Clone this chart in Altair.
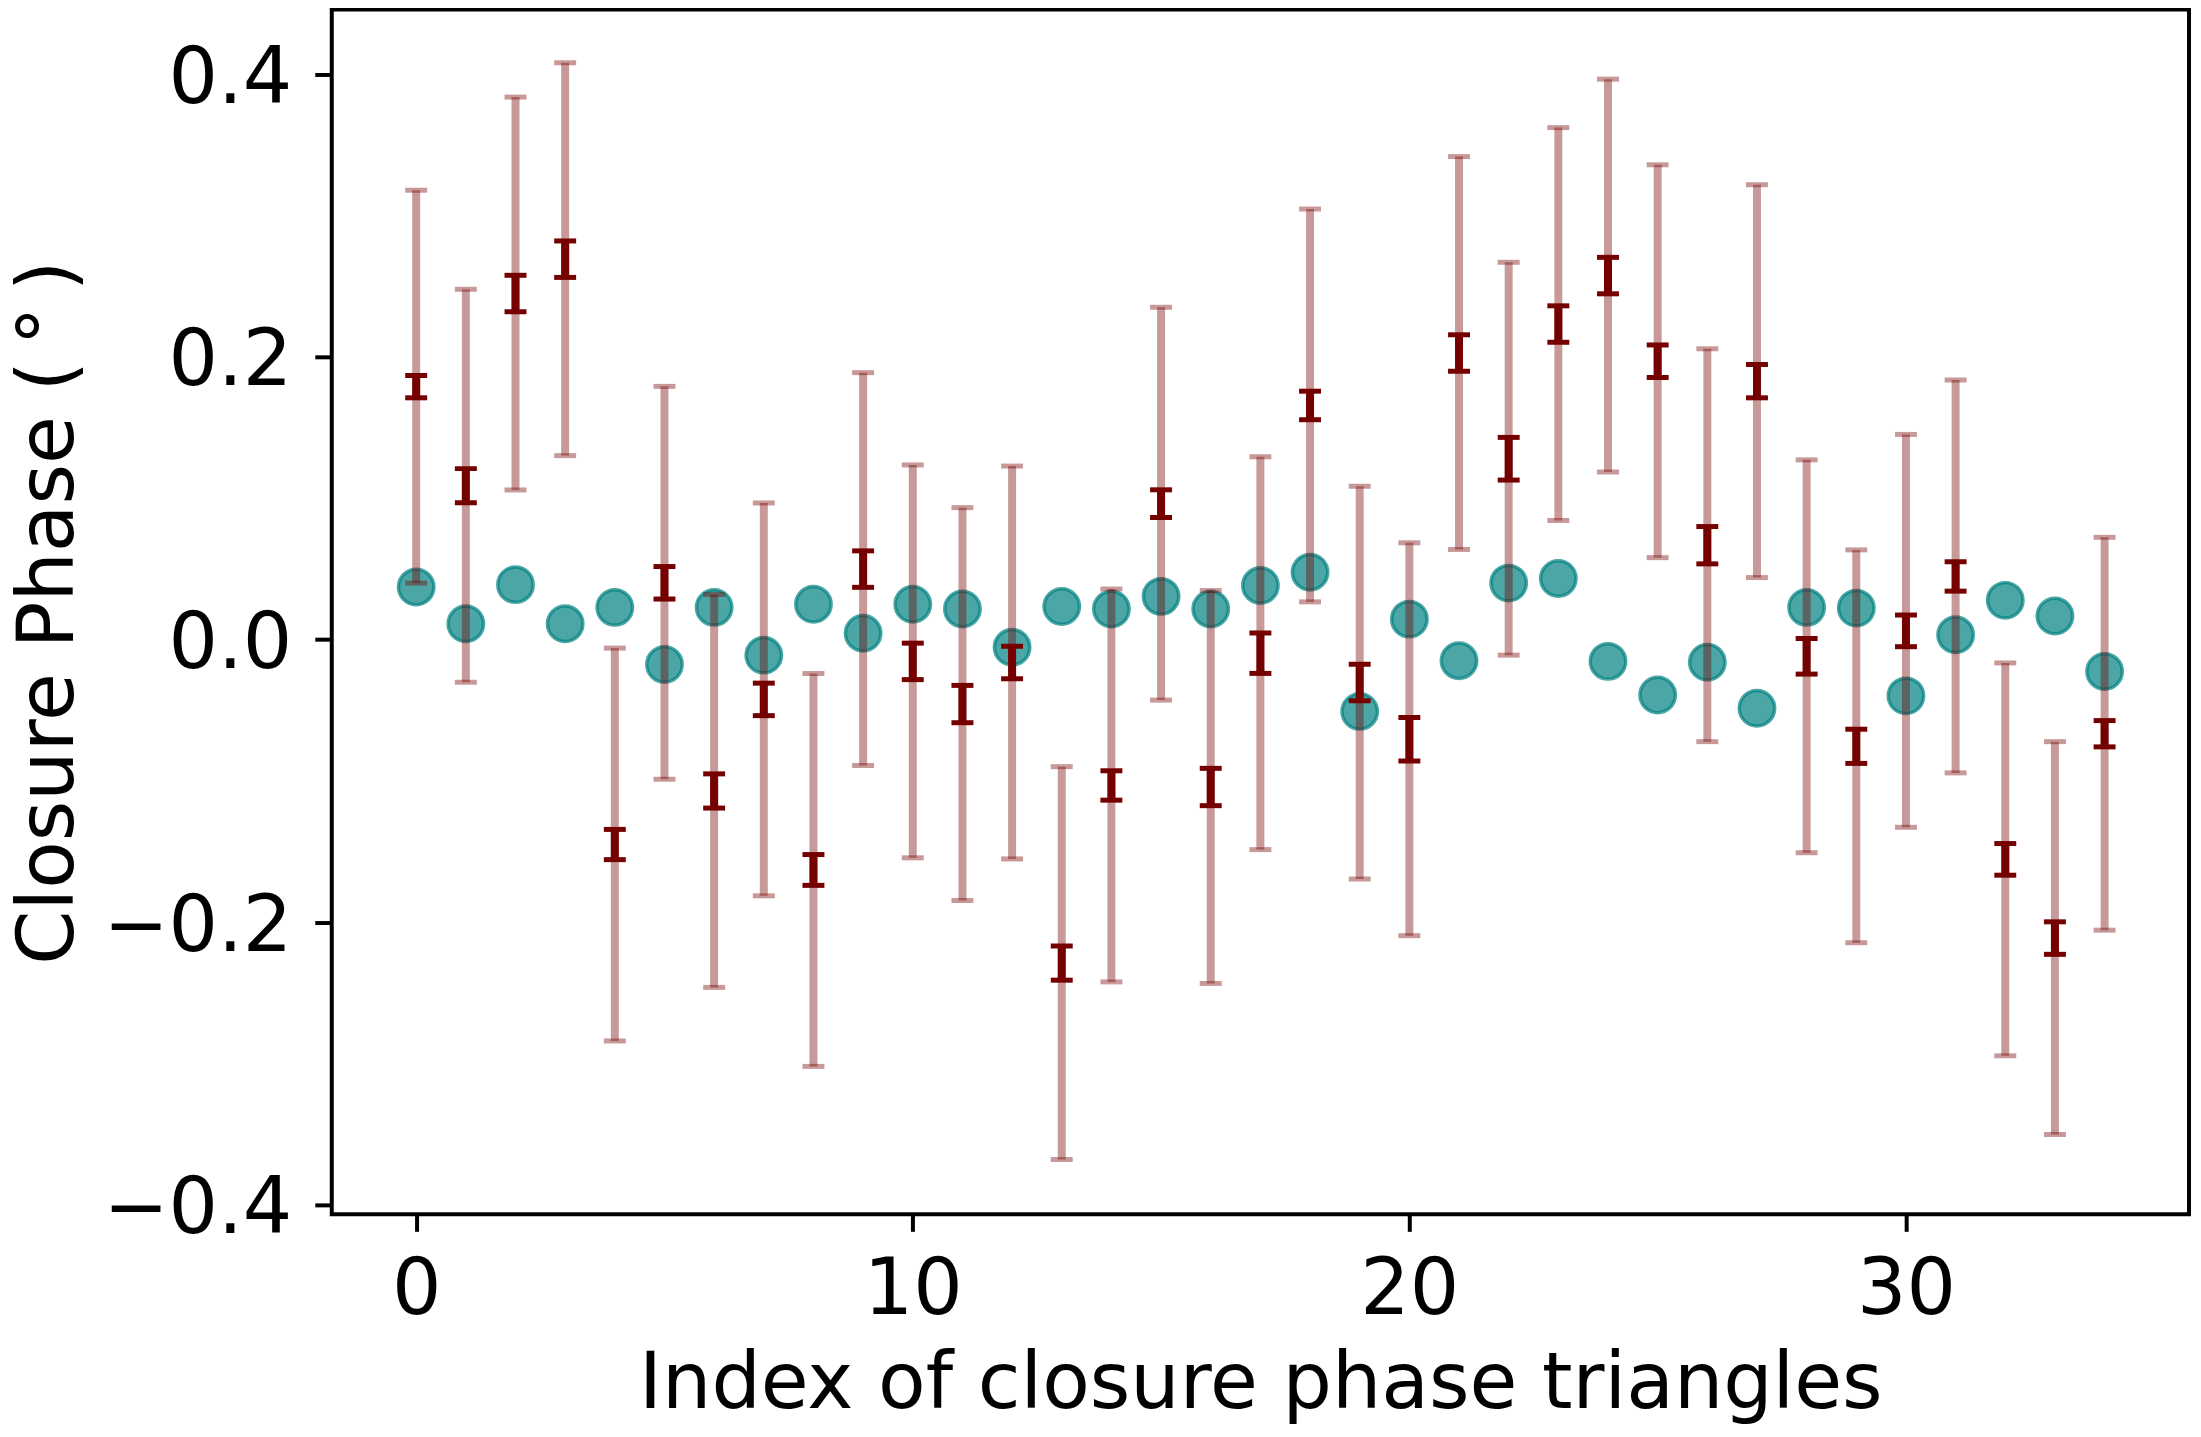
import altair as alt
import pandas as pd

# ---- data ----
index = list(range(35))

# observed closure phases (centres of the dark-red error bars)
observed = [0.1789, 0.1088, 0.2448, 0.2691, -0.1451, 0.0401, -0.1072, -0.0424,
            -0.1631, 0.0498, -0.0155, -0.0457, -0.0163, -0.2290, -0.1033, 0.0961,
            -0.1044, -0.0097, 0.1656, -0.0305, -0.0706, 0.2027, 0.1279, 0.2232,
            0.2575, 0.1969, 0.0667, 0.1828, -0.0119, -0.0756, 0.0061, 0.0446,
            -0.1556, -0.2113, -0.0667]

# small (statistical) error bars
err_small = [0.0079, 0.0121, 0.0129, 0.0129, 0.0107, 0.0115, 0.0121, 0.0115,
             0.0109, 0.0129, 0.0129, 0.0132, 0.0115, 0.0121, 0.0104, 0.0098,
             0.0132, 0.0143, 0.0101, 0.0129, 0.0154, 0.0129, 0.0151, 0.0129,
             0.0129, 0.0115, 0.0132, 0.0118, 0.0126, 0.0121, 0.0112, 0.0104,
             0.0112, 0.0115, 0.0093]

# large (systematic) error bars
err_large = [0.139, 0.139, 0.139, 0.139, 0.139, 0.139, 0.139, 0.139,
             0.139, 0.139, 0.139, 0.139, 0.139, 0.139, 0.139, 0.139,
             0.139, 0.139, 0.139, 0.139, 0.139, 0.139, 0.139, 0.139,
             0.139, 0.139, 0.139, 0.139, 0.139, 0.139, 0.139, 0.139,
             0.139, 0.139, 0.139]

# model closure phases (teal circles)
model = [0.0371, 0.0111, 0.0388, 0.0111, 0.0227, -0.0177, 0.0227, -0.0111,
         0.0249, 0.0044, 0.0249, 0.0216, -0.0055, 0.0233, 0.0216, 0.0305,
         0.0216, 0.0382, 0.0476, -0.0509, 0.0144, -0.0150, 0.0399, 0.0432,
         -0.0155, -0.0393, -0.0161, -0.0487, 0.0227, 0.0222, -0.0399, 0.0033,
         0.0277, 0.0166, -0.0227]

df = pd.DataFrame({"idx": index, "obs": observed, "es": err_small,
                   "el": err_large, "model": model})
df["lo_s"] = df["obs"] - df["es"]
df["hi_s"] = df["obs"] + df["es"]
df["lo_l"] = df["obs"] - df["el"]
df["hi_l"] = df["obs"] + df["el"]

FONT = "DejaVu Sans"
FS = 78
DARK = "#750000"
TEAL = "#008080"

x_axis = alt.Axis(values=[0, 10, 20, 30], title="Index of closure phase triangles",
                  grid=False, domain=False, ticks=True, tickSize=17, tickWidth=4,
                  tickColor="black", labelFont=FONT, labelFontSize=FS,
                  labelColor="black", labelPadding=82.5, labelBaseline="alphabetic",
                  labelFlush=False, labelOverlap=False, labelLimit=1000,
                  titleFont=FONT, titleFontSize=FS, titleFontWeight="normal",
                  titleColor="black", titleX=930.75, titleY=194, titleLimit=3000,
                  titleBaseline="alphabetic", titleAlign="center")
y_axis = alt.Axis(values=[-0.4, -0.2, 0.0, 0.2, 0.4], format=".1f",
                  title="Closure Phase (\u2009°\u2009)",
                  grid=False, domain=False, ticks=True, tickSize=17, tickWidth=4,
                  tickColor="black", labelFont=FONT, labelFontSize=FS,
                  labelColor="black", labelPadding=23, labelBaseline="alphabetic",
                  labelOffset=28, labelFlush=False, labelOverlap=False,
                  labelLimit=1000,
                  titleFont=FONT, titleFontSize=FS, titleFontWeight="normal",
                  titleColor="black", titleAngle=270, titleX=-260, titleY=604,
                  titleLimit=3000,
                  titleBaseline="alphabetic", titleAlign="center")

xs = alt.Scale(domain=[-1.7, 35.7], nice=False, zero=False)
ys = alt.Scale(domain=[-0.4068, 0.4457], nice=False, zero=False)

X = alt.X("idx:Q", scale=xs, axis=x_axis)

def Y(field):
    return alt.Y(f"{field}:Q", scale=ys, axis=y_axis)

base = alt.Chart(df)

points = base.mark_point(shape="circle", size=1260, fill=TEAL, stroke=TEAL,
                         fillOpacity=0.7, strokeOpacity=0.7, strokeWidth=3.5,
                         opacity=1).encode(x=X, y=Y("model"))

large_stem = base.mark_rule(color=DARK, opacity=0.4, strokeWidth=8).encode(
    x=X, y=Y("lo_l"), y2="hi_l")
large_cap_lo = base.mark_tick(orient="horizontal", color=DARK, opacity=0.4,
                              size=22, thickness=5).encode(x=X, y=Y("lo_l"))
large_cap_hi = base.mark_tick(orient="horizontal", color=DARK, opacity=0.4,
                              size=22, thickness=5).encode(x=X, y=Y("hi_l"))

small_stem = base.mark_rule(color=DARK, opacity=1, strokeWidth=8).encode(
    x=X, y=Y("lo_s"), y2="hi_s")
small_cap_lo = base.mark_tick(orient="horizontal", color=DARK, opacity=1,
                              size=22, thickness=5).encode(x=X, y=Y("lo_s"))
small_cap_hi = base.mark_tick(orient="horizontal", color=DARK, opacity=1,
                              size=22, thickness=5).encode(x=X, y=Y("hi_s"))

chart = alt.layer(points, large_stem, large_cap_lo, large_cap_hi,
                  small_stem, small_cap_lo, small_cap_hi).properties(
    width=1861.5, height=1207.5,
    autosize=alt.AutoSizeParams(type="none"),
    padding={"left": 324.5, "top": 0, "right": 4, "bottom": 209.5},
    background="white",
).configure_view(stroke="black", strokeWidth=4)

chart.save("out.html", embed_options={"renderer": "svg", "actions": False})
